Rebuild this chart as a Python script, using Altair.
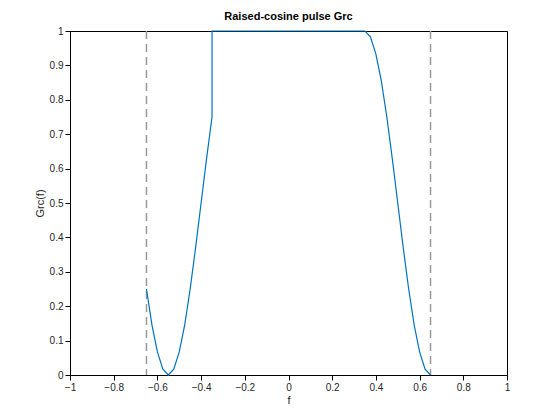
import altair as alt
import pandas as pd

f_vals = [-0.65,-0.625,-0.6,-0.575,-0.55,-0.525,-0.5,-0.475,-0.45,-0.425,-0.4,-0.375,-0.35,
          -0.35,0.0,0.35,0.375,0.4,0.425,0.45,0.475,0.5,0.525,0.55,0.575,0.6,0.625,0.65]
g_vals = [0.25,0.146,0.067,0.017,0.0,0.017,0.067,0.146,0.25,0.371,0.5,0.629,0.75,
          1.0,1.0,1.0,0.983,0.933,0.854,0.75,0.629,0.5,0.371,0.25,0.146,0.067,0.017,0.0]
edges = [-0.65, 0.65]

df = pd.DataFrame({"f": f_vals, "g": g_vals, "i": list(range(len(f_vals)))})
ed = pd.DataFrame({"f": edges})

xs = alt.Scale(domain=[-1, 1], nice=False)
ys = alt.Scale(domain=[0, 1], nice=False)
xax = alt.Axis(values=[-1,-0.8,-0.6,-0.4,-0.2,0,0.2,0.4,0.6,0.8,1], title="f", grid=False,
               format="~g", labelFlush=False, tickSize=5, titlePadding=2,
               domainColor="black", tickColor="black")
yax = alt.Axis(values=[i/10 for i in range(11)], title="Grc(f)", grid=False, tickSize=5,
               format="~g", domainColor="black", tickColor="black")

line = alt.Chart(df).mark_line(color="#0072BD", strokeWidth=1.2).encode(
    x=alt.X("f:Q", scale=xs, axis=xax),
    y=alt.Y("g:Q", scale=ys, axis=yax),
    order="i:Q")
rules = alt.Chart(ed).mark_rule(color="#999999", strokeDash=[8, 5], strokeWidth=1.5).encode(
    x=alt.X("f:Q", scale=xs))

chart = alt.layer(rules, line).properties(
    width=437, height=344,
    title=alt.TitleParams("Raised-cosine pulse Grc", fontSize=11, fontWeight="bold", font="Helvetica", offset=4),
    autosize=alt.AutoSizeParams(type="none"),
    padding={"left": 62, "top": 23, "right": 10, "bottom": 37},
).configure_view(stroke="black", strokeWidth=1).configure_axis(
    labelFont="Helvetica", titleFont="Helvetica", labelFontSize=10, titleFontSize=11,
    titleFontWeight="normal", labelColor="#262626", titleColor="#262626")

chart.save("out.html", embed_options={"renderer": "svg", "actions": False})
